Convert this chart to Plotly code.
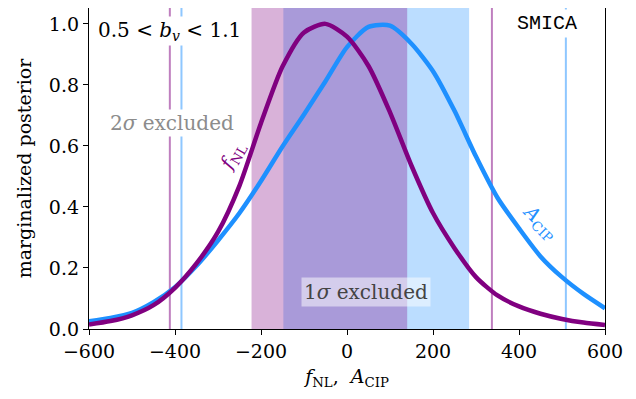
import plotly.graph_objects as go

# ---- data ----
x_grid = [-600, -550, -500, -450, -400, -350, -300, -250, -200, -150, -100, -50,
          0, 50, 100, 150, 200, 250, 300, 350, 400, 450, 500, 550, 600]
fnl_post = [0.015, 0.026, 0.045, 0.078, 0.135, 0.215, 0.318, 0.47, 0.675, 0.86, 0.972, 1.0,
            0.958, 0.862, 0.71, 0.535, 0.38, 0.265, 0.17, 0.11, 0.074, 0.05, 0.033, 0.021, 0.013]
acip_post = [0.025, 0.036, 0.053, 0.088, 0.137, 0.207, 0.29, 0.38, 0.485, 0.598, 0.703, 0.812,
             0.924, 0.99, 0.994, 0.935, 0.845, 0.715, 0.565, 0.43, 0.33, 0.238, 0.17, 0.115, 0.068]

fnl_1sigma = [-222, 140]
acip_1sigma = [-148, 284]
fnl_2sigma = [-412, 337]
acip_2sigma = [-385, 509]

x_ticks = [-600, -400, -200, 0, 200, 400, 600]
y_ticks = [0.0, 0.2, 0.4, 0.6, 0.8, 1.0]

PURPLE = "#800080"
BLUE = "#1E90FF"
SERIF = "DejaVu Serif"

fig = go.Figure()

# shaded 1-sigma excluded bands (blue first, purple on top)
fig.add_vrect(x0=acip_1sigma[0], x1=acip_1sigma[1], fillcolor="rgba(30,144,255,0.3)",
              line_width=0, layer="below")
fig.add_vrect(x0=fnl_1sigma[0], x1=fnl_1sigma[1], fillcolor="rgba(128,0,128,0.3)",
              line_width=0, layer="below")

# 2-sigma lines
for v in fnl_2sigma:
    fig.add_vline(x=v, line=dict(color="rgba(128,0,128,0.5)", width=2), layer="below")
for v in acip_2sigma:
    fig.add_vline(x=v, line=dict(color="rgba(30,144,255,0.5)", width=2), layer="below")

fig.add_trace(go.Scatter(x=x_grid, y=acip_post, mode="lines",
                         line=dict(color=BLUE, width=4.5, shape="spline", smoothing=0.7),
                         showlegend=False, hoverinfo="skip"))
fig.add_trace(go.Scatter(x=x_grid, y=fnl_post, mode="lines",
                         line=dict(color=PURPLE, width=4.5, shape="spline", smoothing=0.7),
                         showlegend=False, hoverinfo="skip"))

fig.add_annotation(x=-584, y=0.976, xref="x", yref="y", xanchor="left", yanchor="middle",
                   text="0.5 &lt; <i>b</i><sub><i>v</i></sub> &lt; 1.1", showarrow=False,
                   font=dict(family=SERIF, size=20, color="black"), bgcolor="white", borderpad=1)
fig.add_annotation(x=-406, y=0.675, xref="x", yref="y",
                   text="2<i>σ</i> excluded", showarrow=False,
                   font=dict(family=SERIF, size=20, color="#8c8c8c"), bgcolor="white", borderpad=1)
fig.add_annotation(x=45, y=0.12, xref="x", yref="y",
                   text="1<i>σ</i> excluded", showarrow=False,
                   font=dict(family=SERIF, size=20, color="#444444"),
                   bgcolor="rgba(255,255,255,0.5)", borderpad=2)
fig.add_annotation(x=465, y=1.0, xref="x", yref="y",
                   text="SMICA", showarrow=False,
                   font=dict(family="Liberation Mono", size=20, color="black"),
                   bgcolor="white", borderpad=2)
fig.add_annotation(x=-266, y=0.565, xref="x", yref="y",
                   text="<i>f</i><sub>NL</sub>", showarrow=False, textangle=-60,
                   font=dict(family=SERIF, size=19, color=PURPLE))
fig.add_annotation(x=449, y=0.35, xref="x", yref="y",
                   text="<i>A</i><sub>CIP</sub>", showarrow=False, textangle=45,
                   font=dict(family=SERIF, size=19, color=BLUE))

axis_common = dict(showgrid=False, zeroline=False, showline=True, linecolor="black",
                   linewidth=1.3, mirror=True, ticks="outside", ticklen=5, tickwidth=1.2,
                   tickcolor="black", automargin=False,
                   tickfont=dict(family=SERIF, size=19, color="black"))

fig.update_xaxes(range=[-600, 600], tickvals=x_ticks,
                 title=dict(text="<i>f</i><sub>NL</sub>,  <i>A</i><sub>CIP</sub>",
                            font=dict(family=SERIF, size=19, color="black"), standoff=8),
                 **axis_common)
fig.update_yaxes(range=[0, 1.052], tickvals=y_ticks, tickformat=".1f",
                 title=dict(text="marginalized posterior",
                            font=dict(family=SERIF, size=19, color="black"), standoff=12),
                 **axis_common)

# page body has an 8px margin, so the figure is sized to fill the remaining window
fig.update_layout(width=628, height=391, margin=dict(l=81, r=31, t=0, b=70),
                  plot_bgcolor="white", paper_bgcolor="white", showlegend=False)

fig.write_html("out.html")
